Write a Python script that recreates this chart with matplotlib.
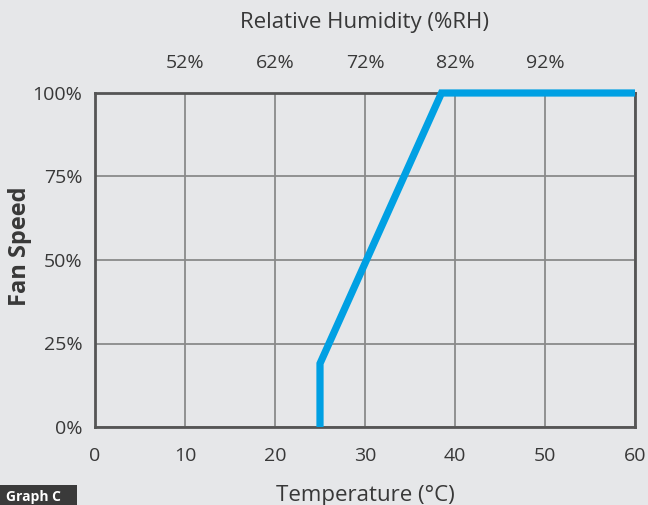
import matplotlib
matplotlib.use("Agg")
import matplotlib.pyplot as plt
from matplotlib.patches import Rectangle

temperature = [25, 25, 38.5, 60]
fan_speed = [0, 19, 100, 100]
x_ticks = [0, 10, 20, 30, 40, 50, 60]
y_ticks = [0, 25, 50, 75, 100]
y_tick_labels = ["0%", "25%", "50%", "75%", "100%"]
rh_ticks = [10, 20, 30, 40, 50]
rh_labels = ["52%", "62%", "72%", "82%", "92%"]

plt.rcParams['font.family'] = ['Open Sans', 'DejaVu Sans']
bg = "#e6e7e9"
txt = "#383838"

fig = plt.figure(figsize=(6.48, 5.05), dpi=100, facecolor=bg)
ax = fig.add_axes([95/648, 78/505, 540/648, 334/505], facecolor=bg)

ax.plot(temperature, fan_speed, color="#00a0e3", lw=5.2, solid_joinstyle="miter",
        solid_capstyle="butt", zorder=3, clip_on=False)

ax.set_xlim(0, 60)
ax.set_ylim(0, 100)
ax.set_xticks(x_ticks)
ax.set_yticks(y_ticks)
ax.set_yticklabels(y_tick_labels)
ax.grid(True, color="#8a8a8a", lw=1.3)
ax.set_axisbelow(True)
for s in ax.spines.values():
    s.set_color("#555555")
    s.set_linewidth(2)
ax.tick_params(axis="y", length=0, labelsize=14, colors=txt, pad=9)
ax.tick_params(axis="x", length=0, labelsize=14, colors=txt, pad=14.5)
ax.set_ylabel("Fan Speed", fontsize=17, fontweight="bold", color=txt)
ax.yaxis.set_label_coords(-0.117, 0.542)
ax.set_xlabel("Temperature (\u00b0C)", fontsize=16, color=txt, labelpad=14)

ax2 = ax.twiny()
ax2.set_xlim(0, 60)
ax2.set_xticks(rh_ticks)
ax2.set_xticklabels(rh_labels)
ax2.tick_params(length=0, labelsize=14, colors=txt, pad=15)
for s in ax2.spines.values():
    s.set_visible(False)
ax2.set_xlabel("Relative Humidity (%RH)", fontsize=16, color=txt, labelpad=18.5)

fig.patches.append(Rectangle((0, 0), 77/648, 20/505, transform=fig.transFigure,
                             fc="#3a3a3a", ec="none", zorder=5))
fig.text(33/648, 1 - 497/505, "Graph C", fontsize=10, fontweight="bold", color="white",
         ha="center", va="center", zorder=6)

fig.savefig("out.png", dpi=100, facecolor=bg)
